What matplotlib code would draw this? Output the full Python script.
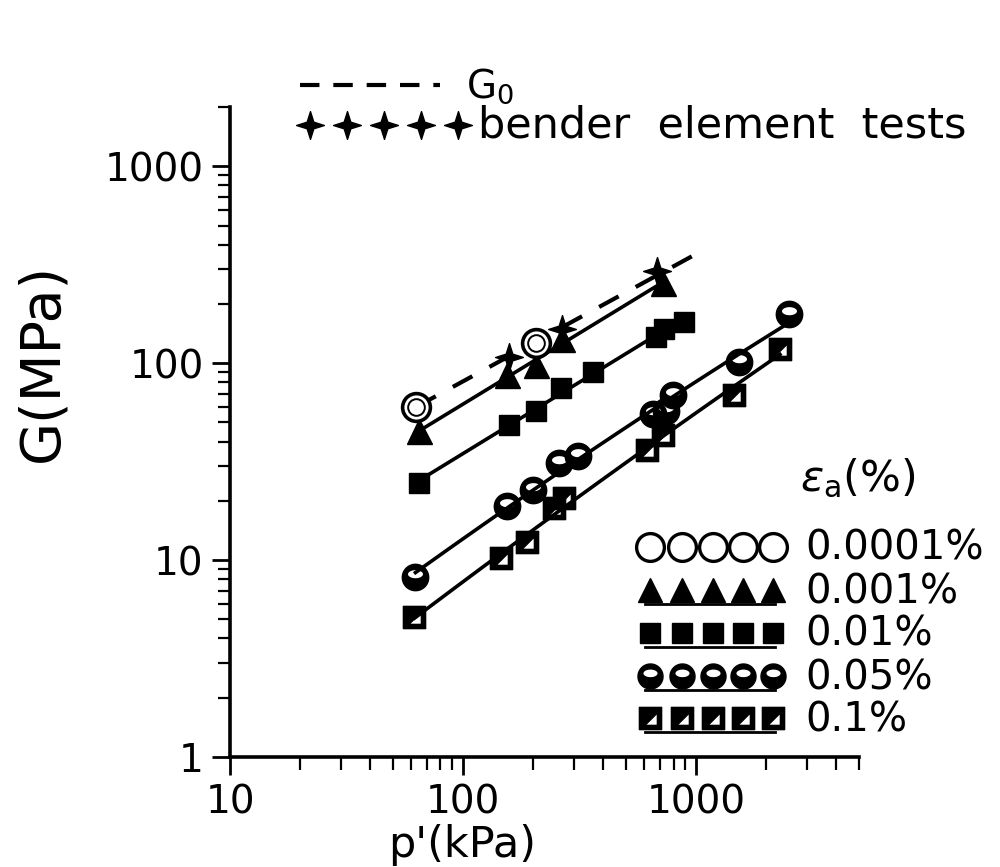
import numpy as np
import matplotlib
matplotlib.use("Agg")
import matplotlib.pyplot as plt
from matplotlib.path import Path
from matplotlib.ticker import LogLocator, NullFormatter

plt.rcParams['font.family'] = ['DejaVu Sans']
plt.rcParams['lines.scale_dashes'] = False

# ---------------- data ----------------
p_e0001 = [63, 205]
G_e0001 = [60, 126]

p_e001 = [65, 154, 205, 267, 719]
G_e001 = [45, 87, 98, 133, 254]

p_e01 = [65, 157, 205, 264, 361, 670, 725, 887]
G_e01 = [24.6, 48.7, 57.5, 75, 90, 136, 149, 162]

p_e05 = [62.5, 154, 200, 259, 310, 656, 741, 795, 1524, 2510]
G_e05 = [8.2, 18.8, 22.7, 31.2, 33.8, 55.5, 57.5, 69, 101, 178]

p_e1 = [61.8, 146, 188, 246, 272, 617, 718, 1447, 2290]
G_e1 = [5.14, 10.2, 12.4, 18.3, 20.6, 36.3, 43.3, 68.6, 118]

p_bender = [157, 267, 677]
G_bender = [107, 150, 295]

p_G0 = [63, 1050]
G_G0 = [60, 370]

strain_labels = ['0.0001%', '0.001%', '0.01%', '0.05%', '0.1%']
x_ticks = [10, 100, 1000]
x_ticklabels = ['10', '100', '1000']
y_ticks = [1, 10, 100, 1000]
y_ticklabels = ['1', '10', '100', '1000']

# ---------------- custom markers ----------------
def poly(xs, ys):
    verts = np.column_stack([xs, ys])
    verts = np.vstack([verts, verts[:1]])
    codes = [Path.MOVETO] + [Path.LINETO] * (len(xs) - 1) + [Path.CLOSEPOLY]
    return verts, codes

t = np.linspace(0, 2 * np.pi, 73)[:-1]
# half-white circle (0.05 %)
v1, c1 = poly(np.cos(t), np.sin(t))
v2, c2 = poly(0.62 * np.cos(-t), 0.25 + 0.36 * np.sin(-t))
m_half = Path(np.vstack([v1, v2]), c1 + c2)
# square with white triangle (0.1 %)
v1, c1 = poly([-1, 1, 1, -1], [-1, -1, 1, 1])
v2, c2 = poly([0.62, -0.5, 0.62], [-0.62, -0.62, 0.5])
m_sqtri = Path(np.vstack([v1, v2]), c1 + c2)
# 4-point star (bender)
ang = np.arange(8) * np.pi / 4 + np.pi / 2
rad = np.where(np.arange(8) % 2 == 0, 1.0, 0.34)
v, c = poly(rad * np.cos(ang), rad * np.sin(ang))
m_star = Path(v, c)

# ---------------- figure ----------------
W, H = 1000, 867
fig = plt.figure(figsize=(W / 100, H / 100), dpi=100)
ax = fig.add_axes([0.23, (H - 757) / H, 0.629, (757 - 107) / H])
ax.set_xscale('log')
ax.set_yscale('log')
ax.set_xlim(10, 5000)
ax.set_ylim(1, 2000)

lw_fit = 2.6

def fit_line(px, gy, deg):
    lx, ly = np.log10(px), np.log10(gy)
    c = np.polyfit(lx, ly, deg)
    xx = np.linspace(lx.min(), lx.max(), 100)
    return 10 ** xx, 10 ** np.polyval(c, xx)

for px, gy, deg in [(p_e001, G_e001, 1), (p_e01, G_e01, 1),
                    (p_e05, G_e05, 2), (p_e1, G_e1, 2)]:
    xx, yy = fit_line(px, gy, deg)
    ax.plot(xx, yy, color='black', lw=lw_fit, zorder=2)

ax.plot(p_G0, G_G0, color='black', lw=3, dashes=(16, 14), zorder=2)

ms_kw = dict(ls='none', color='black', zorder=4)
ax.plot(p_e001, G_e001, marker='^', ms=18, mfc='black', mec='black', **ms_kw)
ax.plot(p_e01, G_e01, marker='s', ms=15, mfc='black', mec='black', **ms_kw)
ax.plot(p_e05, G_e05, marker=m_half, ms=19, mfc='black', mec='black', mew=1, **ms_kw)
ax.plot(p_e1, G_e1, marker=m_sqtri, ms=16, mfc='black', mec='black', mew=1, **ms_kw)
ax.plot(p_bender, G_bender, marker=m_star, ms=20, mfc='black', mec='black', mew=1, **ms_kw)
ax.plot(p_e0001, G_e0001, marker='o', ms=20, mfc='white', mec='black', mew=2.6, ls='none', zorder=5)
ax.plot(p_e0001, G_e0001, marker='o', ms=12, mfc='none', mec='black', mew=1.4, ls='none', zorder=6)

# axes styling
for s in ['top', 'right']:
    ax.spines[s].set_visible(False)
for s in ['left', 'bottom']:
    ax.spines[s].set_linewidth(2.6)
ax.set_xticks(x_ticks)
ax.set_xticklabels(x_ticklabels)
ax.set_yticks(y_ticks)
ax.set_yticklabels(y_ticklabels)
ax.xaxis.set_minor_locator(LogLocator(base=10, subs=np.arange(2, 10)))
ax.yaxis.set_minor_locator(LogLocator(base=10, subs=np.arange(2, 10)))
ax.xaxis.set_minor_formatter(NullFormatter())
ax.yaxis.set_minor_formatter(NullFormatter())
ax.tick_params(which='major', direction='out', length=13, width=2, labelsize=28, pad=6)
ax.tick_params(which='minor', direction='out', length=9, width=1.6)
ax.set_xlabel("p'(kPa)", fontsize=31)
ax.xaxis.set_label_coords((462 - 230) / 629, -(845 - 757) / 650)
ax.xaxis.label.set_va('center')
ax.set_ylabel("G(MPa)", fontsize=40)
ax.yaxis.set_label_coords(-(230 - 42) / 629, (757 - 362) / 650)
ax.yaxis.label.set_va('center')

# ---------------- legends (manual) ----------------
def fx(px):
    return px / W

def fy(py):
    return 1 - py / H

tf = fig.transFigure
# top legend
fig.add_artist(plt.Line2D([fx(300), fx(440)], [fy(85), fy(85)], transform=tf,
                          color='black', lw=3, dashes=(14, 10)))
fig.text(fx(466), fy(86), 'G$_0$', fontsize=28, va='center', ha='left')
sx = [310, 347, 384, 421, 458]
fig.add_artist(plt.Line2D([fx(v) for v in sx], [fy(125)] * 5, transform=tf, ls='none',
                          marker=m_star, ms=20, color='black', mfc='black', mec='black'))
fig.text(fx(478), fy(125), 'bender  element  tests', fontsize=31, va='center', ha='left')

# strain legend
fig.text(fx(858), fy(478), r'$\epsilon_\mathrm{a}$(%)', fontsize=31, ha='center', va='center')
rows = [547, 590, 633, 676, 718]
mx = [650, 682, 713, 743, 773]
styles = [dict(marker='o', ms=20, mfc='white', mec='black', mew=2.4),
          dict(marker='^', ms=17, mfc='black', mec='black'),
          dict(marker='s', ms=15, mfc='black', mec='black'),
          dict(marker=m_half, ms=18, mfc='black', mec='black', mew=1),
          dict(marker=m_sqtri, ms=16, mfc='black', mec='black', mew=1)]
for i, (ry, st, lab) in enumerate(zip(rows, styles, strain_labels)):
    if i > 0:
        fig.add_artist(plt.Line2D([fx(645), fx(775)], [fy(ry + 14)] * 2, transform=tf,
                                  color='black', lw=2))
    fig.add_artist(plt.Line2D([fx(v) for v in mx], [fy(ry)] * 5, transform=tf,
                              ls='none', color='black', **st))
    fig.text(fx(805), fy(ry + 2), lab, fontsize=29, va='center', ha='left')

fig.savefig('out.png', dpi=100)
